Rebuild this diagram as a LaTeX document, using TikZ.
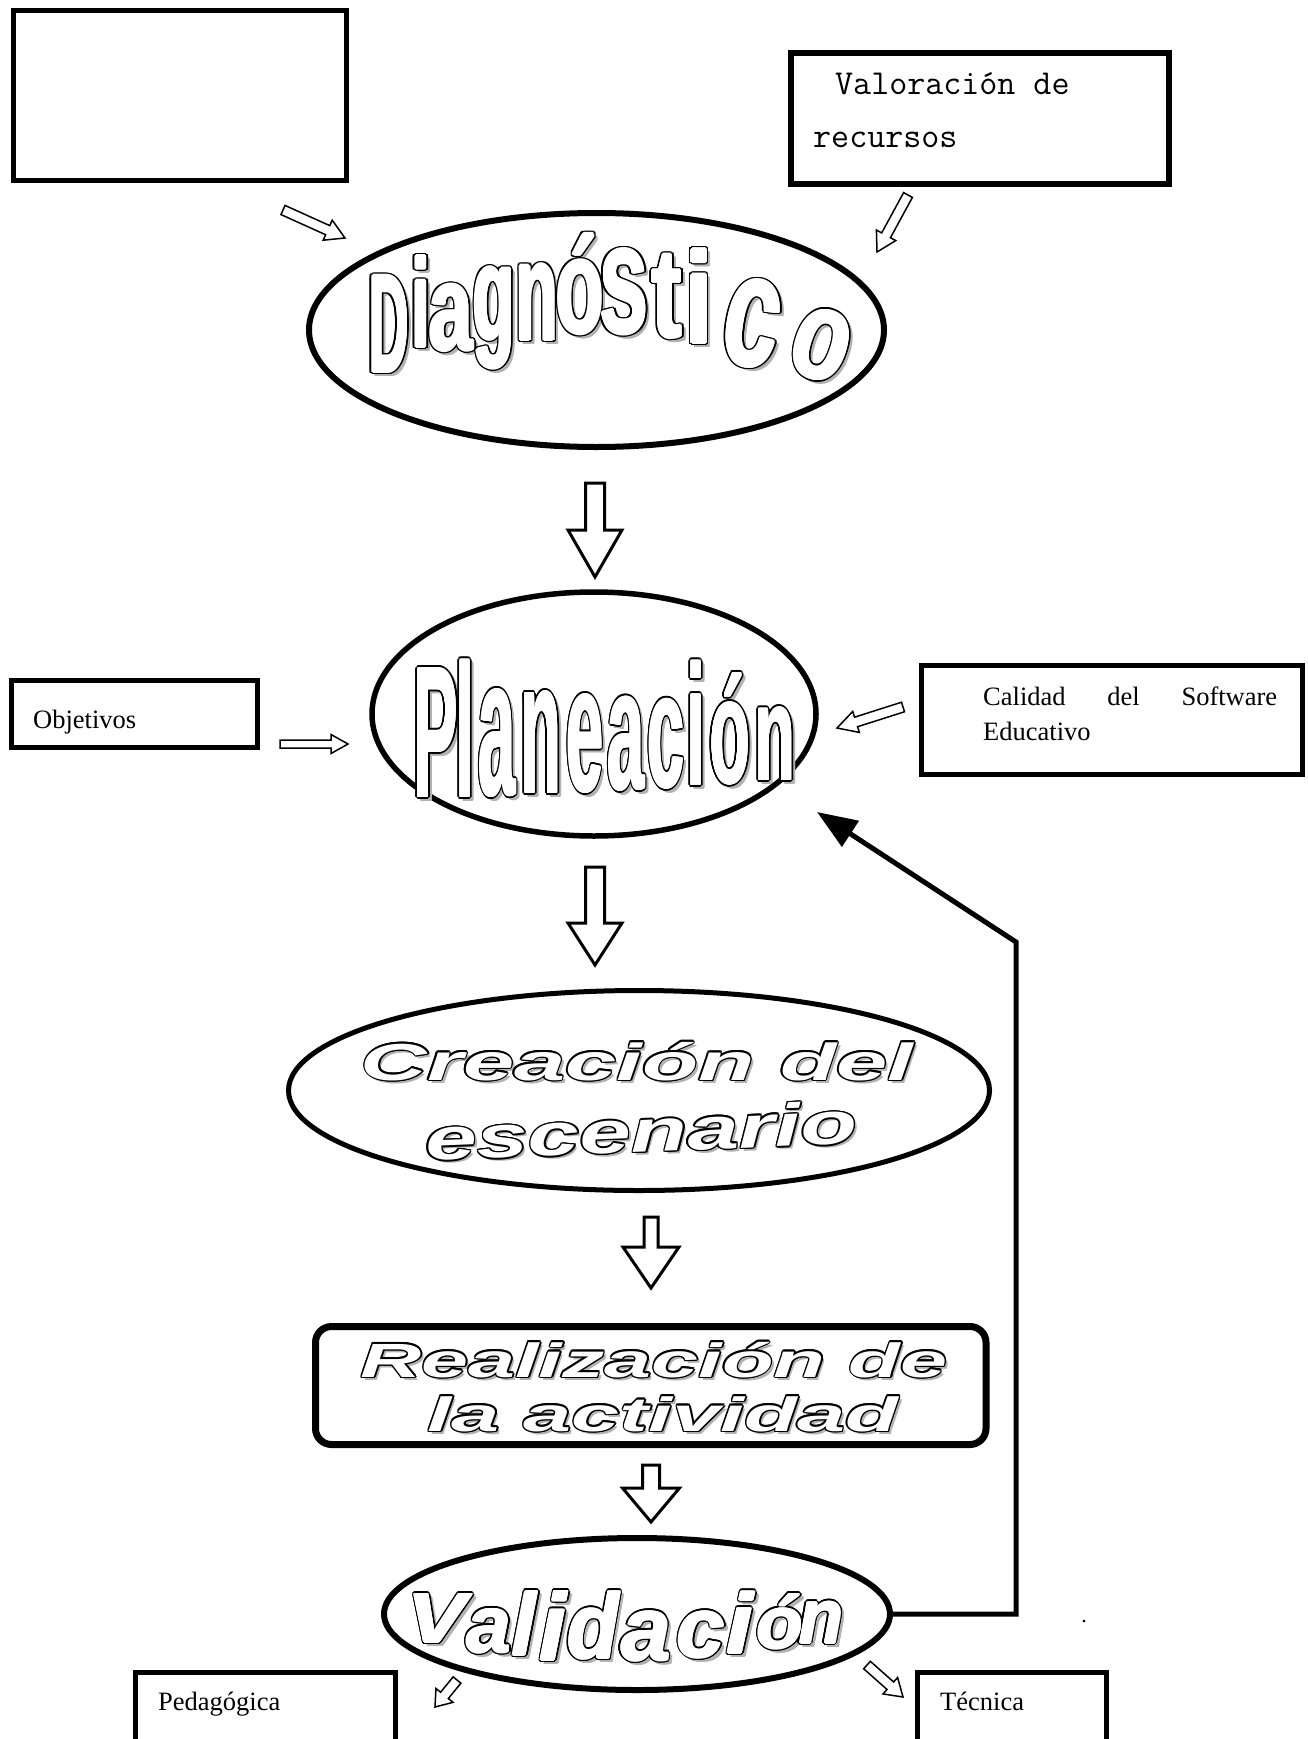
\documentclass[tikz,border=0pt]{standalone}
\usepackage{fontspec}
\setmainfont{Liberation Serif}
\newfontfamily\wafam{Liberation Sans}
\usetikzlibrary{calc,shapes.geometric,arrows.meta}

\newcommand\holarrow[6]{%
  \coordinate (#1H) at ($(#2)!#5!(#1)$);
  \draw[line width=#6, fill=white, line join=miter]
    ($(#1)!#3!90:(#2)$) -- ($(#1H)!#3!90:(#2)$) -- ($(#1H)!#4!90:(#2)$) -- (#2)
    -- ($(#1H)!#4!-90:(#2)$) -- ($(#1H)!#3!-90:(#2)$) -- ($(#1)!#3!-90:(#2)$) -- cycle;
}
\newcommand\wordart[4]{%
  \node[wa shadow,#3] (#1s) at ([shift={(3pt,-3pt)}]#2) {#4};
  \foreach \a in {0,30,...,330}{\node[wa line,#3] (#1o\a) at ([shift={(\a:1.5pt)}]#2) {#4};}
  \node[wa fill,#3] (#1) at (#2) {#4};
}
% #1 prefix, #2 options, #3 list x/base/xscale/yscale/rot/char, #4 bold radius, #5 outline radius
\newcommand\letterart[5]{%
  \foreach \x/\b/\w/\s/\r/\c in {#3}{\foreach \a in {0,45,...,315}{\node[wa shadow,#2,rotate=\r,xscale=\w,yscale=\s] (#1s\x-\a) at ([shift={(3.5pt,-3.5pt)},shift={(\a:#4)}]\x,\b) {\c};}}
  \foreach \x/\b/\w/\s/\r/\c in {#3}{\foreach \a in {0,22.5,...,337.5}{\node[wa line,#2,rotate=\r,xscale=\w,yscale=\s] (#1o\x-\a) at ([shift={(\a:#5)}]\x,\b) {\c};}}
  \foreach \x/\b/\w/\s/\r/\c in {#3}{\foreach \a in {0,45,...,315}{\node[wa fill,#2,rotate=\r,xscale=\w,yscale=\s] (#1f\x-\a) at ([shift={(\a:#4)}]\x,\b) {\c};}}
  \foreach \x/\b/\w/\s/\r/\c in {#3}{\node[wa fill,#2,rotate=\r,xscale=\w,yscale=\s] (#1\x) at (\x,\b) {\c};}
}

\begin{document}
\begin{tikzpicture}[x=1pt,y=-1pt,
  wa shadow/.style={text=gray!60, inner sep=0, anchor=base},
  wa line/.style={text=black, inner sep=0, anchor=base},
  wa fill/.style={text=white, inner sep=0, anchor=base},
  box/.style={draw, rectangle, inner sep=0, line width=5pt},
  oval/.style={draw, ellipse, inner sep=0},
  txt/.style={anchor=base west, inner sep=0, font=\fontsize{26.5}{32}\selectfont},
  mono/.style={anchor=base west, inner sep=0, font=\ttfamily\fontsize{35}{40}\selectfont},
  dgfont/.style={font=\wafam\bfseries\fontsize{80}{90}\selectfont},
  plfont/.style={font=\wafam\bfseries\fontsize{60}{70}\selectfont},
  vafont/.style={font=\wafam\bfseries\itshape\fontsize{80}{90}\selectfont},
  crfont/.style={font=\wafam\bfseries\itshape\fontsize{52}{60}\selectfont},
  refont/.style={font=\wafam\bfseries\itshape\fontsize{48}{56}\selectfont}
]
\useasboundingbox (0,0) rectangle (1307,1739);
\fill[white] (0,0) rectangle (1307,1739);

% boxes
\node[box, minimum width=333pt, minimum height=170pt] (blank) at (179.5,95.5) {};
\node[box, line width=6pt, minimum width=378pt, minimum height=131pt] (valbox) at (980,118.5) {};
\node[box, minimum width=246pt, minimum height=67pt] (objbox) at (134.5,714) {};
\node[box, minimum width=381pt, minimum height=109pt] (calbox) at (1112,720) {};
\node[box, line width=7pt, rounded corners=16pt, minimum width=670.5pt, minimum height=118pt] (realbox) at (650.75,1385.5) {};
\node[box, minimum width=260pt, minimum height=107pt] (pedbox) at (265.5,1726) {};
\node[box, minimum width=189pt, minimum height=107pt] (tecbox) at (1012,1726) {};

% ellipses
\node[oval, line width=6pt, minimum width=575pt, minimum height=234pt] (diag) at (596.5,330) {};
\node[oval, line width=5.5pt, minimum width=444pt, minimum height=244pt] (plan) at (594,714) {};
\node[oval, line width=5pt, minimum width=701pt, minimum height=200pt] (crea) at (639,1090.5) {};
\node[oval, line width=6pt, minimum width=506pt, minimum height=152pt] (val) at (637,1614) {};

% plain texts
\node[mono] (valt1) at (835,95) {Valoración de};
\node[mono] (valt2) at (813,148) {recursos};
\node[txt] (objt) at (33,728) {Objetivos};
\node[txt] (calt1) at (983,705) {\makebox[294pt][s]{Calidad del Software}};
\node[txt] (calt2) at (983,740) {Educativo};
\node[txt] (pedt) at (158,1710) {Pedagógica};
\node[txt] (tect) at (940,1710) {Técnica};
\node[anchor=base, inner sep=0, font=\fontsize{22}{24}\selectfont] (dot) at (1084,1622) {.};

% word art
\letterart{dg}{dgfont}{389/372/0.68/1.75/0/D,421/347/0.85/1.57/0/i,451/350/0.98/1.52/0/a,494/340/0.85/1.69/0/g,537/340/0.86/1.76/0/n,580/333/0.98/1.69/0/ó,624/333/1.1/1.95/0/s,667/337/1.15/1.58/0/t,699/343/1.25/1.62/0/i,745/365/1.25/2.0/-10/c,811/377/1.15/1.6/-18/o}{1.3pt}{2.8pt}
\letterart{pl}{plfont}{436/797/1.1/3.12/0/P,465/797/1.1/3.16/0/l,497/795/1.1/3.28/0/a,541/793/1.1/3.15/0/n,585/791/1.1/3.0/0/e,626/789/1.1/2.86/0/a,666/787/1.1/2.73/0/c,696/785/1.1/2.86/0/i,730/783/1.1/2.5/0/ó,775/780/1.1/2.25/0/n}{0.8pt}{2.3pt}
\wordart{cr1}{637,1080}{crfont, xscale=1.77}{Creación del}
\wordart{cr2}{642,1152}{crfont, rotate=2.3, xscale=1.78, yscale=1.15}{escenario}
\wordart{re1}{654,1377}{refont, xscale=1.76}{Realización de}
\wordart{re2}{663,1431}{refont, xscale=1.8}{la actividad}
\letterart{va}{vafont}{437/1642/1.1/0.87/0/V,489/1652/1.0/1.0/0/a,524/1655/1.1/1.1/0/l,553/1660/1.2/1.19/0/i,593/1658/1.05/1.15/0/d,646/1660/1.12/1.13/0/a,701/1657/1.08/1.06/0/c,740/1653/1.2/1.06/0/i,780/1648/0.95/0.92/0/ó,821/1643/0.9/0.96/0/n}{1pt}{2.5pt}

% hollow arrows
\coordinate (h1t) at (283,210);  \coordinate (h1h) at (345,238);
\coordinate (h2t) at (908,195);  \coordinate (h2h) at (877,252);
\coordinate (h3t) at (595,483);  \coordinate (h3h) at (595,577);
\coordinate (h4t) at (280,744);  \coordinate (h4h) at (348,744);
\coordinate (h5t) at (903,707);  \coordinate (h5h) at (837,728);
\coordinate (h6t) at (595,867);  \coordinate (h6h) at (595,965);
\coordinate (h7t) at (651,1217); \coordinate (h7h) at (651,1288);
\coordinate (h8t) at (651,1465); \coordinate (h8h) at (651,1522);
\coordinate (h9t) at (457,1680); \coordinate (h9h) at (435,1707);
\coordinate (h10t) at (867,1665); \coordinate (h10h) at (903,1697);
\holarrow{h1t}{h1h}{5pt}{11pt}{19pt}{1.5pt}
\holarrow{h2t}{h2h}{5pt}{11pt}{19pt}{1.5pt}
\holarrow{h3t}{h3h}{9.5pt}{27pt}{47pt}{3pt}
\holarrow{h4t}{h4h}{4pt}{9.5pt}{17pt}{1.5pt}
\holarrow{h5t}{h5h}{5pt}{11pt}{20pt}{1.5pt}
\holarrow{h6t}{h6h}{9.5pt}{27pt}{42pt}{3pt}
\holarrow{h7t}{h7h}{7pt}{28pt}{41pt}{3pt}
\holarrow{h8t}{h8h}{8.5pt}{28.5pt}{34pt}{3pt}
\holarrow{h9t}{h9h}{5pt}{11pt}{15pt}{1.5pt}
\holarrow{h10t}{h10h}{5pt}{11pt}{17pt}{1.5pt}

% feedback connector
\coordinate (fb2) at (1016,942);
\coordinate (fbtip) at (817,812);
\draw[line width=5pt, -{Triangle[length=40pt,width=30pt]}] (val.east) -| (fb2) -- (fbtip);
\end{tikzpicture}
\end{document}
